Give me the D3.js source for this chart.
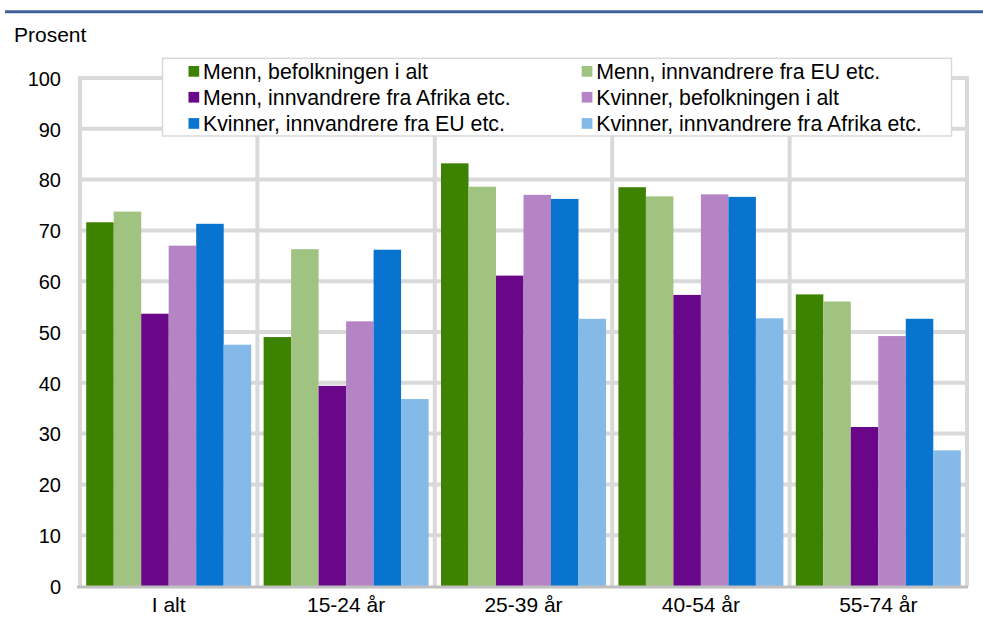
<!DOCTYPE html>
<html><head><meta charset="utf-8">
<script src="https://cdn.jsdelivr.net/npm/d3@7"></script>
<style>body{margin:0;background:#fff}svg{display:block;font-family:"Liberation Sans",Arial,sans-serif}</style>
</head><body>
<script>
const categories = ["I alt","15-24 år","25-39 år","40-54 år","55-74 år"];
const seriesNames = ["Menn, befolkningen i alt","Menn, innvandrere fra EU etc.","Menn, innvandrere fra Afrika etc.","Kvinner, befolkningen i alt","Kvinner, innvandrere fra EU etc.","Kvinner, innvandrere fra Afrika etc."];
const seriesColors = ["#3d8200","#a0c382","#690788","#b484c4","#0973d0","#85b9e7"];
const menBefolkning   = [71.6, 49.0, 83.2, 78.5, 57.4];
const menEU           = [73.7, 66.3, 78.6, 76.7, 56.0];
const menAfrika       = [53.6, 39.4, 61.1, 57.3, 31.3];
const kvinnerBefolkning = [67.0, 52.1, 77.0, 77.1, 49.2];
const kvinnerEU       = [71.3, 66.2, 76.2, 76.6, 52.6];
const kvinnerAfrika   = [47.5, 36.8, 52.6, 52.7, 26.7];
const seriesValues = [menBefolkning, menEU, menAfrika, kvinnerBefolkning, kvinnerEU, kvinnerAfrika];
const yTicks = [0,10,20,30,40,50,60,70,80,90,100];

(function(){
const W = 983, H = 617;
const pLeft = 80, pRight = 967, pTop = 78, pBottom = 586;
const svg = d3.select("body").append("svg").attr("width", W).attr("height", H);

// top rule
svg.append("line").attr("x1",5).attr("x2",W).attr("y1",11.7).attr("y2",11.7)
  .attr("stroke","#41609a").attr("stroke-width",3);

const x0 = d3.scaleBand().domain(categories).range([pLeft, pRight]).paddingInner(0.07).paddingOuter(0.035);
const x1 = d3.scaleBand().domain(d3.range(seriesNames.length)).range([0, x0.bandwidth()]);
const y = d3.scaleLinear().domain([0,100]).range([pBottom, pTop]);

// horizontal gridlines
svg.append("g").selectAll("line").data(yTicks.filter(d=>d>0)).join("line")
  .attr("x1", pLeft-2).attr("x2", pRight).attr("y1", d=>y(d)).attr("y2", d=>y(d))
  .attr("stroke","#d9d9d9").attr("stroke-width",4);
// vertical separators
const seps = d3.range(categories.length+1).map(i => pLeft + i*(pRight-pLeft)/categories.length);
svg.append("g").selectAll("line").data(seps).join("line")
  .attr("x1", d=>d).attr("x2", d=>d).attr("y1", pTop-2).attr("y2", pBottom)
  .attr("stroke","#d9d9d9").attr("stroke-width",4);

// bars
const g = svg.append("g");
categories.forEach((c, ci) => {
  seriesValues.forEach((vals, si) => {
    g.append("rect")
      .attr("x", x0(c) + x1(si))
      .attr("width", x1.bandwidth())
      .attr("y", y(vals[ci]))
      .attr("height", y(0) - y(vals[ci]))
      .attr("fill", seriesColors[si]);
  });
});

// bottom axis
svg.append("line").attr("x1",pLeft-3).attr("x2",pRight+1).attr("y1",pBottom+1).attr("y2",pBottom+1)
  .attr("stroke","#bfbfbf").attr("stroke-width",3);

// y tick labels
svg.append("g").selectAll("text").data(yTicks).join("text")
  .attr("x", 61).attr("y", d=>y(d)+0.7).attr("dy","0.35em").attr("text-anchor","end")
  .attr("font-size",20).attr("fill","#000").text(d=>d);

// x labels
svg.append("g").selectAll("text").data(categories).join("text")
  .attr("x", d=>x0(d)+x0.bandwidth()/2).attr("y", 612).attr("text-anchor","middle")
  .attr("font-size",21).attr("fill","#000").text(d=>d);

// y title
svg.append("text").attr("x",14).attr("y",41.7).attr("font-size",21).attr("fill","#000").text("Prosent");

// legend
svg.append("rect").attr("x",162.5).attr("y",58.3).attr("width",789).attr("height",77.7)
  .attr("fill","#fff").attr("stroke","#d9d9d9").attr("stroke-width",1.5);
const colX = [188.5, 581.7], rowY = [71.3, 97.2, 123.4];
seriesNames.forEach((n, i) => {
  const cx = colX[i % 2], cy = rowY[Math.floor(i/2)];
  svg.append("rect").attr("x", cx).attr("y", cy-5.3).attr("width",10.7).attr("height",10.7).attr("fill", seriesColors[i]);
  svg.append("text").attr("x", cx+14.5).attr("y", cy).attr("dy","0.35em")
    .attr("font-size",21.3).attr("fill","#000").text(n);
});
})();
</script>
</body></html>
